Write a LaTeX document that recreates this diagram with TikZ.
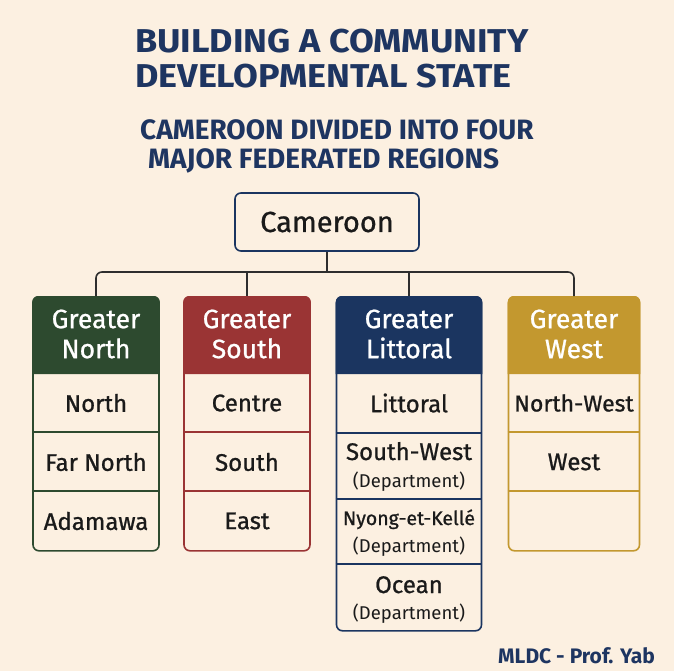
\documentclass[tikz,border=0pt]{standalone}
\usepackage{fontspec}
\setmainfont{Fira Sans}
\newfontfamily\medfont{Fira Sans}[FakeBold=0.9]
\definecolor{bg}{HTML}{FCF0E1}
\definecolor{navy}{HTML}{1E3561}
\definecolor{cg}{HTML}{2D4A2F}
\definecolor{cr}{HTML}{9A3434}
\definecolor{cn}{HTML}{1B3560}
\definecolor{cy}{HTML}{C3982F}
\definecolor{ink}{HTML}{1A1A1A}
\definecolor{conn}{HTML}{2E2E2E}
\begin{document}
\begin{tikzpicture}[x=1pt,y=-1pt,
  title/.style={anchor=base west,inner sep=0pt,text=navy,xscale=1.09,transform shape,font=\fontsize{33}{36}\selectfont\bfseries},
  subtitle/.style={anchor=base west,inner sep=0pt,text=navy,font=\fontsize{28}{30}\selectfont\bfseries},
  colframe/.style={draw=#1,line width=1.6pt,rounded corners=6pt,anchor=north,inner sep=0pt},
  hdrtxt/.style={text=white,align=center,inner sep=0pt,font=\fontsize{26.5}{30}\medfont},
  rowtxt/.style={text=ink,align=center,inner sep=0pt,font=\fontsize{24}{28}\medfont},
  deptxt/.style={text=ink,align=center,inner sep=0pt,font=\fontsize{18.5}{22}\selectfont},
  connline/.style={draw=conn,line width=1.6pt}]
\fill[bg] (0,0) rectangle (674,671);
\useasboundingbox (0,0) rectangle (674,671);

% titles
\node[title] (t1) at (135,53) {BUILDING A COMMUNITY};
\node[title] (t2) at (135,88) {DEVELOPMENTAL STATE};
\node[subtitle] (s1) at (140,140) {CAMEROON DIVIDED INTO FOUR};
\node[subtitle] (s2) at (148,168) {MAJOR FEDERATED REGIONS};

% root
\node[draw=cn,line width=1.6pt,rounded corners=6pt,minimum width=184pt,minimum height=58pt,
  font=\fontsize{29}{32}\medfont,text=ink] (cam) at (327,222) {Cameroon};

% column frames
\node[colframe=cg,minimum width=126pt,minimum height=254pt] (col1) at (96,296) {};
\node[colframe=cr,minimum width=126pt,minimum height=254pt] (col2) at (247,296) {};
\node[colframe=cn,minimum width=145pt,minimum height=334pt] (col3) at (409,296) {};
\node[colframe=cy,minimum width=131pt,minimum height=254pt] (col4) at (574,296) {};

% header fills
\foreach \c/\col in {col1/cg,col2/cr,col3/cn,col4/cy}{
  \fill[\col] (\c.west |- 0,374) [rounded corners=6pt] -- (\c.north west) -- (\c.north east) [sharp corners] -- (\c.east |- 0,374) -- cycle;
}

% header texts
\node[hdrtxt] (h1) at (96,334) {Greater\\North};
\node[hdrtxt] (h2) at (247,334) {Greater\\South};
\node[hdrtxt] (h3) at (409,334) {Greater\\Littoral};
\node[hdrtxt] (h4) at (574,334) {Greater\\West};

% separators
\foreach \yy in {432,491}{
  \draw[cg,line width=1.4pt] (col1.west |- 0,\yy) -- (col1.east |- 0,\yy);
  \draw[cr,line width=1.4pt] (col2.west |- 0,\yy) -- (col2.east |- 0,\yy);
  \draw[cy,line width=1.4pt] (col4.west |- 0,\yy) -- (col4.east |- 0,\yy);
}
\foreach \yy in {433,499,564}{
  \draw[cn,line width=1.4pt] (col3.west |- 0,\yy) -- (col3.east |- 0,\yy);
}

% rows
\node[rowtxt] (r11) at (96,403) {North};
\node[rowtxt] (r12) at (96,462) {Far North};
\node[rowtxt] (r13) at (96,521) {Adamawa};
\node[rowtxt] (r21) at (247,403) {Centre};
\node[rowtxt] (r22) at (247,462) {South};
\node[rowtxt] (r23) at (247,521) {East};
\node[rowtxt] (r31) at (409,403) {Littoral};
\node[rowtxt,anchor=base] (r32) at (409,460) {South-West};
\node[deptxt,anchor=base] (d32) at (409,487) {(Department)};
\node[rowtxt,anchor=base,font=\fontsize{19.5}{24}\medfont] (r33) at (409,525) {Nyong-et-Kellé};
\node[deptxt,anchor=base] (d33) at (409,552) {(Department)};
\node[rowtxt,anchor=base] (r34) at (409,593) {Ocean};
\node[deptxt,anchor=base] (d34) at (409,619) {(Department)};
\node[rowtxt,font=\fontsize{23}{28}\medfont] (r41) at (574,403) {North-West};
\node[rowtxt] (r42) at (574,462) {West};

% connectors
\coordinate (bus) at (327,272);
\draw[connline] (cam.south) -- (cam.south |- bus);
\draw[connline,rounded corners=6pt] (col1.north) -- (col1.north |- bus) -- (col4.north |- bus) -- (col4.north);
\draw[connline] (col2.north |- bus) -- (col2.north);
\draw[connline] (col3.north |- bus) -- (col3.north);

% footer
\node[anchor=base east,inner sep=0pt,text=navy,font=\fontsize{21}{24}\selectfont\bfseries] (foot) at (655,663) {MLDC - Prof. Yab};
\end{tikzpicture}
\end{document}
